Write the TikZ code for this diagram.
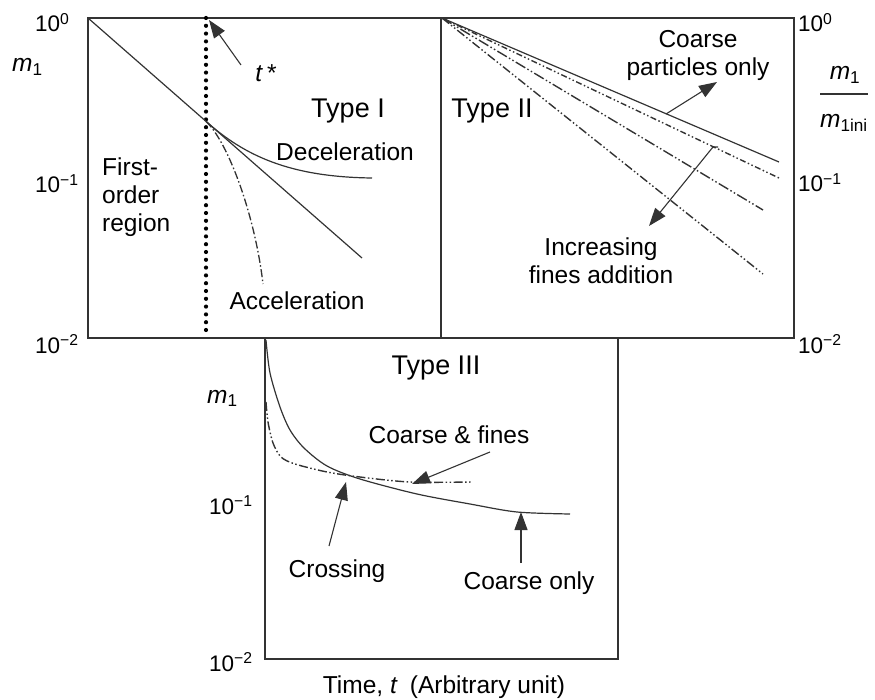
\documentclass[tikz,border=0pt]{standalone}
\usepackage{fontspec}
\setmainfont{Liberation Sans}
\usetikzlibrary{arrows.meta}
\newcommand{\mone}{\textit{m}\textsubscript{1}}

\begin{document}
\begin{tikzpicture}[
  x=1pt, y=-1pt,
  every node/.style = {inner sep=0pt, font=\fontsize{24.5}{28}\selectfont},
  panel/.style = {draw=black!80, line width=1.5pt},
  curve/.style = {draw=black!80, line width=1.2pt},
  dashdot/.style = {curve, line width=1.3pt, dash pattern=on 8pt off 2.5pt on 1.5pt off 2.5pt},
  dashdotdot/.style = {curve, line width=1.4pt, dash pattern=on #1 off 2.5pt on 1.5pt off 2.5pt on 1.5pt off 2.5pt},
  dashdotdot/.default = 9pt,
  dotline/.style = {draw=black, line width=4.2pt, line cap=round, dash pattern=on 0pt off 7.8pt},
  pointer/.style = {draw=black!80, line width=1.1pt, -{Triangle[length=18pt, width=13pt]}},
  ticklab/.style = {anchor=base west, font=\fontsize{22.5}{27}\selectfont},
  typelab/.style = {anchor=base, font=\fontsize{27}{32}\selectfont}
]
\useasboundingbox (0,0) rectangle (875,700);

% panels
\draw[panel] (88,18) rectangle (441,338);
\draw[panel] (441,18) rectangle (794,338);
\draw[panel] (265,338) rectangle (618,659);

% axis labels
\node[ticklab] (tl0) at (35,32) {10\textsuperscript{0}};
\node[ticklab] (tl1) at (35,193) {10\textsuperscript{−1}};
\node[ticklab] (tl2) at (35,353) {10\textsuperscript{−2}};
\node[anchor=base west] (mleft) at (12,72) {\mone};
\node[ticklab] (tr0) at (798,32) {10\textsuperscript{0}};
\node[ticklab] (tr1) at (798,192) {10\textsuperscript{−1}};
\node[ticklab] (tr2) at (798,353) {10\textsuperscript{−2}};
\node[anchor=base] (ratnum) at (845,80) {\mone};
\node[anchor=base] (ratden) at (844,128) {\textit{m}\textsubscript{1ini}};
\draw[line width=1.2pt, black!80] (ratden.west |- 0,94) -- (ratden.east |- 0,94);
\node[ticklab] (tb1) at (209,514) {10\textsuperscript{−1}};
\node[ticklab] (tb2) at (209,671) {10\textsuperscript{−2}};
\node[anchor=base west] (mbot) at (207,403) {\mone};
\node[anchor=base] (timelab) at (444,693) {Time, \textit{t}\enspace(Arbitrary unit)};

% Type I
\coordinate (tstop) at (206,18);
\coordinate (tsbot) at (206,331);
\coordinate (knee) at (206,121.4);
\draw[dotline] (tstop) -- (tsbot);
\draw[curve] (88,18) -- (362,258);
\draw[curve] (knee) .. controls (245,156) and (290,177) .. (372,178);
\draw[dashdot] (knee) .. controls (228,142) and (255,215) .. (263,284);
\node[typelab] (type1) at (348,118) {Type I};
\node[anchor=base] (tstar) at (266,82) {\textit{t}\,*};
\coordinate (tstail) at (241,65);
\coordinate (tshead) at (209,20);
\draw[pointer] (tstail) -- (tshead);
\node (decel) at (345,151.5) {Deceleration};
\node (accel) at (297,301) {Acceleration};
\node[anchor=north west, align=left] (firstord) at (102,158) {First-\\order\\region};

% Type II
\coordinate (origin2) at (442,18);
\draw[curve] (origin2) -- (779,162);
\draw[dashdotdot=6pt] (origin2) -- (779,178);
\draw[dashdotdot=11pt] (origin2) -- (763,210);
\draw[dashdotdot] (origin2) -- (763,274);
\node[typelab] (type2) at (492,118) {Type II};
\node[align=center] (coarsepart) at (698,55) {Coarse\\particles only};
\coordinate (cptail) at (666,114);
\coordinate (cphead) at (717,82);
\draw[pointer] (cptail) -- (cphead);
\node[align=center] (finesadd) at (601,260.5) {Increasing\\fines addition};
\coordinate (fatail) at (718,147);
\coordinate (fabend) at (713,147);
\coordinate (fahead) at (649,226);
\draw[pointer] (fatail) -- (fabend) -- (fahead);

% Type III
\draw[curve] plot[smooth] coordinates {(266,340) (270,373) (280,407) (290,430) (304,448) (327,466) (360,479) (417,494) (470,504) (517,512) (570,514)};
\draw[dashdotdot] plot[smooth] coordinates {(266,402) (268,422) (273,443) (281,457) (295,464) (327,472) (360,477) (410,482) (473,482)};
\node[typelab] (type3) at (436,374) {Type III};
\node[anchor=base] (cfines) at (449,443) {Coarse \& fines};
\coordinate (cftail) at (490,452);
\coordinate (cfhead) at (412,484);
\draw[pointer] (cftail) -- (cfhead);
\node[anchor=base] (crossing) at (337,577) {Crossing};
\coordinate (crtail) at (329,546);
\coordinate (crhead) at (346,482);
\draw[pointer] (crtail) -- (crhead);
\node[anchor=base] (conly) at (529,589) {Coarse only};
\coordinate (cotail) at (521,563);
\coordinate (cohead) at (521,512);
\draw[pointer] (cotail) -- (cohead);
\end{tikzpicture}
\end{document}
